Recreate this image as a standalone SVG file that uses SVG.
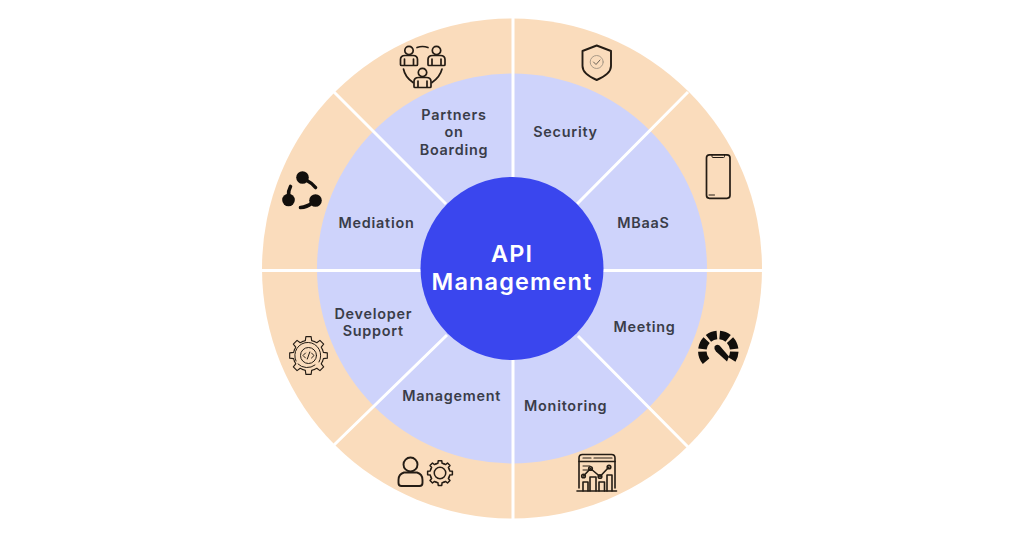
<svg xmlns="http://www.w3.org/2000/svg" xmlns:xlink="http://www.w3.org/1999/xlink" width="1024" height="538" viewBox="0 0 1024 538">
<style>
text{font-family:Inter,"Noto Sans","Liberation Sans",sans-serif;font-weight:600;font-size:14.400px;letter-spacing:.75px;fill:#3a3d49;text-anchor:middle}
#core text{font-size:23.500px;letter-spacing:1.150px;fill:#fff;font-weight:600}
.spoke{stroke:#fff;stroke-width:3;fill:none}
.i{fill:none;stroke:#241c14;stroke-width:1.700;stroke-linecap:round;stroke-linejoin:round}
.t{stroke-width:1}
.k{fill:#120f0c;stroke:none}
.b{fill:none;stroke:#120f0c;stroke-linecap:round}
</style>
<defs>
<g id="tooth"><path d="M-30.6-73.9L-16.6-78.3L-13.9-99H13.9L16.6-78.3L30.6-73.9"/></g>
<g id="gear">
<use xlink:href="#tooth"/><use xlink:href="#tooth" transform="rotate(45)"/><use xlink:href="#tooth" transform="rotate(90)"/><use xlink:href="#tooth" transform="rotate(135)"/><use xlink:href="#tooth" transform="rotate(180)"/><use xlink:href="#tooth" transform="rotate(225)"/><use xlink:href="#tooth" transform="rotate(270)"/><use xlink:href="#tooth" transform="rotate(315)"/>
</g>
<g id="person"><circle cx="0" cy="-5.5" r="4.200"/><path d="M-8.500 8.500V3.500Q-8.500 -.5 -4 -.5H4Q8.500 -.5 8.500 3.500V8.500Q8.500 9.500 7.500 9.500H-7.500Q-8.500 9.500 -8.500 8.500ZM-4.500 3V9.500M4.500 3V9.500"/></g>
</defs>
<rect width="1024" height="538" fill="#fff"/>
<circle id="outer-ring" cx="512" cy="268.500" r="250" fill="#fadcbc"/>
<circle id="inner-ring" cx="512" cy="268.500" r="195" fill="#ced3fb"/>
<g id="connectors" class="spoke">
<path d="M513 17V177M513 360V520"/>
<path d="M262 270.500H421M603 270.500H763"/>
<path d="M334 92L446 204M578 336L688 447"/>
<path d="M688 92L577 204M447 335L334 445"/>
</g>
<g id="core"><circle cx="512" cy="268.500" r="91.500" fill="#3a46ee"/><text><tspan x="512" y="262">API</tspan><tspan x="512" y="290">Management</tspan></text></g>

<g id="security"><text x="565.500" y="137">Security</text>
<path class="i" d="M596.700 45.500L611 51V66Q611 74 596.700 80Q582.500 74 582.500 66V51Z" style="stroke-width:1.900"/>
<circle class="i t" cx="596.700" cy="62" r="6.500" style="stroke:#a99a88"/><path class="i t" d="M593.500 62L596 64.500L600 60" style="stroke:#6b6257"/></g>

<g id="mbaas"><text x="643.500" y="228">MBaaS</text>
<rect class="i" x="706.500" y="154.800" width="23.500" height="43.500" rx="3"/><path class="i t" d="M712 155V156.500Q712 157.500 713 157.500H723.500Q724.500 157.500 724.500 156.500V155"/><path class="i t" d="M709 195H714.500"/></g>

<g id="meeting"><text x="644.500" y="331.500">Meeting</text>
<g fill="none" stroke="#120f0c" stroke-width="8.500">
<path d="M719.690 335.060A16 16 0 0 1 728.150 338.390"/><path d="M730 340.090A16 16 0 0 1 734.180 349.050"/><path d="M734.290 351.560A16 16 0 0 1 731.870 359.480"/>
<path d="M716.910 335.060A16 16 0 0 0 708.450 338.390"/><path d="M706.600 340.090A16 16 0 0 0 702.420 349.050"/><path d="M702.310 351.560A16 16 0 0 0 706.040 361.280"/>
</g>
<path class="k" d="M714.500 346.500Q716.500 343.500 719.500 345.500L729 356.500L727 361.500L716 351.500Q713.800 349 714.500 346.500Z"/></g>

<g id="monitoring"><text x="565.700" y="411">Monitoring</text>
<g class="i" style="stroke-width:1.600"><path d="M579 488V458Q579 454.500 582.500 454.500H611.500Q615 454.500 615 458V488"/><path d="M579 461.500H615"/><path d="M577 491H616.500"/>
<path d="M583 458H591M594 458H612" style="stroke-width:1.200"/>
<path d="M583 466H590M583 470H588" style="stroke-width:1"/>
<path d="M583.500 476L590.500 468.500L600 476.500L609 467"/><circle cx="583.500" cy="476" r="1.800"/><circle cx="590.500" cy="468.500" r="1.800"/><circle cx="600" cy="476.500" r="1.800"/><circle cx="609" cy="467" r="1.800"/>
<path d="M583 491V482H588V491M590 491V477H596V491M599 491V482H604.500V491M607 491V475H612V491"/></g></g>

<g id="management"><text x="451.700" y="401">Management</text>
<g class="i" style="stroke-width:1.900"><circle cx="410.500" cy="464.500" r="7"/><path d="M410.500 472.500H404Q398.500 474 398.500 480V483Q398.500 486 401.500 486H419.500Q422.500 486 422.500 483V480Q422.500 474 417 472.500Z"/></g>
<g class="i" transform="translate(440 473) scale(.125)" style="stroke-width:12"><use xlink:href="#gear"/><circle r="46"/></g></g>

<g id="developer-support"><text><tspan x="373.300" y="318.500">Developer</tspan><tspan x="373.300" y="336">Support</tspan></text>
<g class="i" transform="translate(308.500 355.500) scale(.19)" style="stroke-width:6"><use xlink:href="#gear"/></g>
<g class="i t"><path d="M296 361A13 13 0 1 1 319 362"/><path d="M315 365A13 13 0 0 1 298 364"/><circle cx="308.500" cy="355.500" r="8"/><path d="M305.500 353L303 355.500L305.500 358M311.500 353L314 355.500L311.500 358M309.800 352L307.300 359"/></g></g>

<g id="mediation"><text x="376.500" y="228">Mediation</text>
<circle class="k" cx="302.500" cy="177.500" r="6.300"/><circle class="k" cx="288.500" cy="200" r="6.300"/><circle class="k" cx="315.500" cy="200.500" r="6.300"/>
<g class="b" stroke-width="3.600"><path d="M306 180Q312 183 315.500 187.500"/><path d="M288.500 196Q288 191 290.500 186.500"/><path d="M312 203Q307 207 300.500 207.500"/></g></g>

<g id="partners"><text><tspan x="454" y="119.500">Partners</tspan><tspan x="454" y="137">on</tspan><tspan x="454" y="154.500">Boarding</tspan></text>
<g class="i"><use xlink:href="#person" transform="translate(409 56)"/><use xlink:href="#person" transform="translate(436.500 56)"/><use xlink:href="#person" transform="translate(422.500 78)"/>
<path d="M417 47.500Q422.500 45.500 428 47.500M403.500 69Q405 77 413 82.500M442 69Q440 77 432 82.500"/></g></g>
</svg>
